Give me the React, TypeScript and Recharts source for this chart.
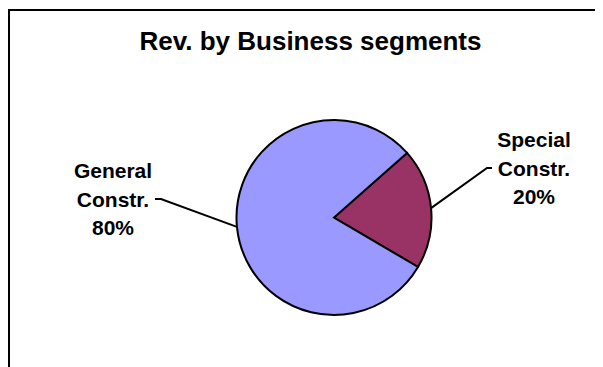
import { PieChart, Pie, Cell } from "recharts"

// Revenue split by business segment (percent)
const segments = ["Special Constr.", "General Constr."]
const shares = [20, 80]
const colors = ["#993366", "#9999FF"]

const data = segments.map((name, i) => ({ name, value: shares[i] }))

// where each label block sits relative to the pie centre
const labelPos: Record<string, { dx: number; dy: number }> = {
  "Special Constr.": { dx: 200, dy: -42 },
  "General Constr.": { dx: -221, dy: -11 },
}

const RAD = Math.PI / 180
const FONT = "'Liberation Sans', Arial, sans-serif"

const renderLabel = (props: any) => {
  const { cx, cy, midAngle, outerRadius, percent, name } = props
  const pos = labelPos[name]
  if (!pos) return null
  const sx = cx + outerRadius * Math.cos(-midAngle * RAD)
  const sy = cy + outerRadius * Math.sin(-midAngle * RAD)
  const tx = cx + pos.dx
  const ty = cy + pos.dy
  const right = pos.dx > 0
  // elbow next to the middle text line
  const ex = right ? tx - 47 : tx + 48
  const ey = ty - 7.5
  const hx = right ? ex + 5 : ex - 6
  const lines = [...name.split(" "), `${Math.round(percent * 100)}%`]
  return (
    <g>
      <polyline points={`${sx},${sy} ${ex},${ey} ${hx},${ey}`} fill="none" stroke="#000" strokeWidth={2} />
      <text x={tx} y={ty} textAnchor="middle" fontFamily={FONT} fontWeight="bold" fontSize={21} fill="#000">
        {lines.map((l, i) => (
          <tspan key={i} x={tx} y={ty + (i - 1) * 28.5}>
            {l}
          </tspan>
        ))}
      </text>
    </g>
  )
}

export default function App() {
  return (
    <div style={{ position: "relative", width: 595, height: 359, overflow: "hidden" }}>
      <div
        style={{
          position: "absolute",
          left: 0,
          top: 1,
          width: 700,
          height: 500,
          border: "2.5px solid #000",
        }}
      />
      <div style={{ position: "absolute", left: -8, top: -8 }}>
        <PieChart width={603} height={367}>
          <text x={310.5} y={50} textAnchor="middle" fontFamily={FONT} fontWeight="bold" fontSize={26} fill="#000">
            Rev. by Business segments
          </text>
          <Pie
            data={data}
            dataKey="value"
            nameKey="name"
            cx={329}
            cy={212.5}
            outerRadius={97.5}
            startAngle={41.5}
            endAngle={41.5 - 360}
            stroke="#000"
            strokeWidth={2}
            label={renderLabel}
            labelLine={false}
            isAnimationActive={false}
          >
            {data.map((d, i) => (
              <Cell key={d.name} fill={colors[i]} />
            ))}
          </Pie>
        </PieChart>
      </div>
    </div>
  )
}
